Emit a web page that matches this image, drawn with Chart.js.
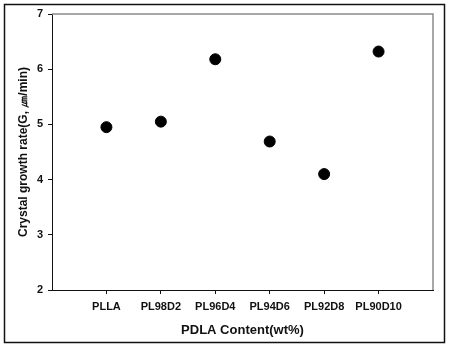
<!DOCTYPE html>
<html>
<head>
<meta charset="utf-8">
<script src="https://cdn.jsdelivr.net/npm/chart.js@4.4.1/dist/chart.umd.min.js"></script>
<style>
  html, body { margin: 0; padding: 0; background: #fff; }
  #wrap { width: 449px; height: 348px; position: relative; }
</style>
</head>
<body>
<div id="wrap"><canvas id="c" width="449" height="348"></canvas></div>
<script>
// ── Crystal growth rate vs PDLA content ──
const categories = ['PLLA', 'PL98D2', 'PL96D4', 'PL94D6', 'PL92D8', 'PL90D10'];
const growthRate = [4.95, 5.05, 6.18, 4.69, 4.10, 6.32];
const yTicks = [2, 3, 4, 5, 6, 7];

const FONT = 'Liberation Sans, Arial, Helvetica, sans-serif';

// points sit at x = 1..6 on a 0..7 linear axis, same as the original plot spacing
const points = growthRate.map((v, i) => ({ x: i + 1, y: v }));

// gray top/right frame + outer picture border
const framePlugin = {
  id: 'frame',
  beforeDatasetsDraw(chart) {
    const { ctx, chartArea: a } = chart;
    ctx.save();
    ctx.strokeStyle = '#8a8a8a';
    ctx.lineWidth = 1.5;
    ctx.beginPath();
    ctx.moveTo(a.left, a.top);
    ctx.lineTo(a.right, a.top);
    ctx.lineTo(a.right, a.bottom);
    ctx.stroke();
    ctx.restore();
  },
  afterDraw(chart) {
    const ctx = chart.ctx;
    ctx.save();
    ctx.strokeStyle = '#111';
    ctx.lineWidth = 1.5;
    ctx.strokeRect(4.5, 4.5, 440, 338);
    ctx.restore();
  }
};

new Chart(document.getElementById('c'), {
  type: 'scatter',
  data: {
    datasets: [{
      label: 'G',
      data: points,
      backgroundColor: '#000',
      borderColor: '#000',
      pointRadius: 5.5,
      pointHoverRadius: 5.5,
      showLine: false
    }]
  },
  options: {
    responsive: false,
    animation: false,
    events: [],
    layout: { padding: { left: 0, top: 14, right: 16, bottom: 0 } },
    plugins: { legend: { display: false }, tooltip: { enabled: false } },
    scales: {
      x: {
        type: 'linear',
        min: 0,
        max: 7,
        afterBuildTicks: s => { s.ticks = categories.map((c, i) => ({ value: i + 1 })); },
        afterFit: s => { s.height = 58; },
        ticks: {
          autoSkip: false,
          maxRotation: 0,
          padding: 6,
          color: '#111',
          font: { family: FONT, size: 11, weight: 'bold' },
          callback: v => categories[v - 1] || ''
        },
        grid: { drawOnChartArea: false, drawTicks: true, tickLength: 4, color: '#111' },
        border: { display: true, color: '#111', width: 1 },
        title: {
          display: true,
          text: 'PDLA Content(wt%)',
          color: '#111',
          font: { family: FONT, size: 13, weight: 'bold' },
          padding: { top: 4, bottom: 10 }
        }
      },
      y: {
        min: 2,
        max: 7,
        afterBuildTicks: s => { s.ticks = yTicks.map(v => ({ value: v })); },
        afterFit: s => { s.width = 52; },
        ticks: {
          padding: 5,
          color: '#111',
          font: { family: FONT, size: 11, weight: 'bold' }
        },
        grid: { drawOnChartArea: false, drawTicks: true, tickLength: 4, color: '#111' },
        border: { display: true, color: '#111', width: 1 },
        title: {
          display: true,
          text: 'Crystal growth rate(G, \u339B/min)',
          color: '#111',
          font: { family: FONT, size: 12, weight: 'bold' },
          padding: { top: 16, bottom: 0 }
        }
      }
    }
  },
  plugins: [framePlugin]
});
</script>
</body>
</html>
